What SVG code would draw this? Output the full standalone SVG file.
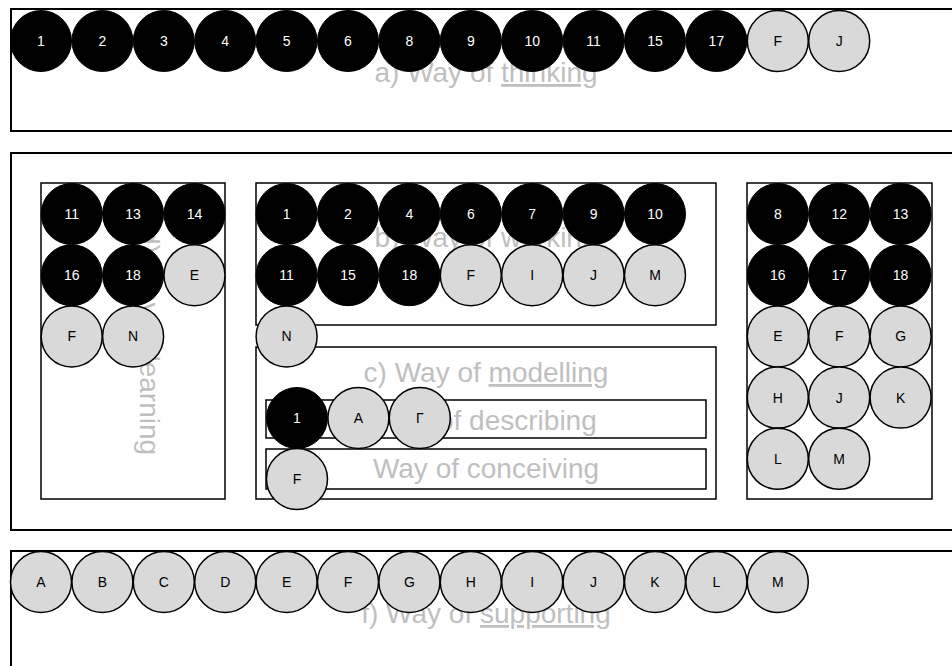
<svg xmlns="http://www.w3.org/2000/svg" width="952" height="666" viewBox="0 0 952 666">
<style>
.box{fill:#fff;stroke:#000;stroke-width:2}
.ibox{fill:none;stroke:#000;stroke-width:1.5}
.lbl{font-family:"Liberation Sans",Arial,sans-serif;font-size:28px;fill:#bfbfbf;text-anchor:middle}
.u{text-decoration:underline}
.b circle{fill:#000;stroke:#000;stroke-width:1}
.g circle{fill:#d9d9d9;stroke:#000;stroke-width:1.5}
.b text,.g text{font-family:"Liberation Sans",Arial,sans-serif;font-size:14px;text-anchor:middle;dominant-baseline:central}
.b text{fill:#fff}
.g text{fill:#000}
</style>
<rect width="952" height="666" fill="#fff"/>
<g id="box-a">
<rect class="box" x="11" y="9" width="960" height="122"/>
<text class="lbl" x="486" y="82">a) Way of <tspan class="u">thinking</tspan></text>
</g>
<g id="box-outer-middle">
<rect class="box" x="11" y="153" width="960" height="377"/>
</g>
<g id="box-d">
<rect class="ibox" x="41" y="183" width="184" height="316"/>
<text class="lbl" transform="translate(140,342) rotate(90)">d) Way of learning</text>
</g>
<g id="box-b">
<rect class="ibox" x="256" y="183" width="460" height="142"/>
<text class="lbl" x="486" y="247">b) Way of working</text>
</g>
<g id="box-c">
<rect class="ibox" x="256" y="347" width="460" height="152"/>
<text class="lbl" x="486" y="382">c) Way of <tspan class="u">modelling</tspan></text>
</g>
<g id="box-describing">
<rect class="ibox" x="266" y="400" width="440" height="38"/>
<text class="lbl" x="486" y="430">Way of describing</text>
</g>
<g id="box-conceiving">
<rect class="ibox" x="266" y="449" width="440" height="40"/>
<text class="lbl" x="486" y="478">Way of conceiving</text>
</g>
<g id="box-e">
<rect class="ibox" x="747" y="183" width="185" height="316"/>
</g>
<g id="box-f">
<rect class="box" x="11" y="551" width="960" height="130"/>
<text class="lbl" x="486" y="623">f) Way of <tspan class="u">supporting</tspan></text>
</g>
<g id="connectors"/>
<!-- a) thinking -->
<g id="a-1" class="b"><circle cx="41" cy="41" r="30.5"/><text x="41" y="41">1</text></g>
<g id="a-2" class="b"><circle cx="102.4" cy="41" r="30.5"/><text x="102.4" y="41">2</text></g>
<g id="a-3" class="b"><circle cx="163.8" cy="41" r="30.5"/><text x="163.8" y="41">3</text></g>
<g id="a-4" class="b"><circle cx="225.2" cy="41" r="30.5"/><text x="225.2" y="41">4</text></g>
<g id="a-5" class="b"><circle cx="286.6" cy="41" r="30.5"/><text x="286.6" y="41">5</text></g>
<g id="a-6" class="b"><circle cx="348" cy="41" r="30.5"/><text x="348" y="41">6</text></g>
<g id="a-8" class="b"><circle cx="409.4" cy="41" r="30.5"/><text x="409.4" y="41">8</text></g>
<g id="a-9" class="b"><circle cx="470.8" cy="41" r="30.5"/><text x="470.8" y="41">9</text></g>
<g id="a-10" class="b"><circle cx="532.2" cy="41" r="30.5"/><text x="532.2" y="41">10</text></g>
<g id="a-11" class="b"><circle cx="593.6" cy="41" r="30.5"/><text x="593.6" y="41">11</text></g>
<g id="a-15" class="b"><circle cx="655" cy="41" r="30.5"/><text x="655" y="41">15</text></g>
<g id="a-17" class="b"><circle cx="716.4" cy="41" r="30.5"/><text x="716.4" y="41">17</text></g>
<g id="a-F" class="g"><circle cx="777.8" cy="41" r="30.5"/><text x="777.8" y="41">F</text></g>
<g id="a-J" class="g"><circle cx="839.2" cy="41" r="30.5"/><text x="839.2" y="41">J</text></g>
<!-- d) learning -->
<g id="d-11" class="b"><circle cx="71.7" cy="214" r="30.5"/><text x="71.7" y="214">11</text></g>
<g id="d-13" class="b"><circle cx="133.1" cy="214" r="30.5"/><text x="133.1" y="214">13</text></g>
<g id="d-14" class="b"><circle cx="194.5" cy="214" r="30.5"/><text x="194.5" y="214">14</text></g>
<g id="d-16" class="b"><circle cx="71.7" cy="275.2" r="30.5"/><text x="71.7" y="275.2">16</text></g>
<g id="d-18" class="b"><circle cx="133.1" cy="275.2" r="30.5"/><text x="133.1" y="275.2">18</text></g>
<g id="d-E" class="g"><circle cx="194.5" cy="275.2" r="30.5"/><text x="194.5" y="275.2">E</text></g>
<g id="d-F" class="g"><circle cx="71.7" cy="336.4" r="30.5"/><text x="71.7" y="336.4">F</text></g>
<g id="d-N" class="g"><circle cx="133.1" cy="336.4" r="30.5"/><text x="133.1" y="336.4">N</text></g>
<!-- b) working -->
<g id="b-1" class="b"><circle cx="286.6" cy="214" r="30.5"/><text x="286.6" y="214">1</text></g>
<g id="b-2" class="b"><circle cx="348" cy="214" r="30.5"/><text x="348" y="214">2</text></g>
<g id="b-4" class="b"><circle cx="409.4" cy="214" r="30.5"/><text x="409.4" y="214">4</text></g>
<g id="b-6" class="b"><circle cx="470.8" cy="214" r="30.5"/><text x="470.8" y="214">6</text></g>
<g id="b-7" class="b"><circle cx="532.2" cy="214" r="30.5"/><text x="532.2" y="214">7</text></g>
<g id="b-9" class="b"><circle cx="593.6" cy="214" r="30.5"/><text x="593.6" y="214">9</text></g>
<g id="b-10" class="b"><circle cx="655" cy="214" r="30.5"/><text x="655" y="214">10</text></g>
<g id="b-11" class="b"><circle cx="286.6" cy="275.2" r="30.5"/><text x="286.6" y="275.2">11</text></g>
<g id="b-15" class="b"><circle cx="348" cy="275.2" r="30.5"/><text x="348" y="275.2">15</text></g>
<g id="b-18" class="b"><circle cx="409.4" cy="275.2" r="30.5"/><text x="409.4" y="275.2">18</text></g>
<g id="b-F" class="g"><circle cx="470.8" cy="275.2" r="30.5"/><text x="470.8" y="275.2">F</text></g>
<g id="b-I" class="g"><circle cx="532.2" cy="275.2" r="30.5"/><text x="532.2" y="275.2">I</text></g>
<g id="b-J" class="g"><circle cx="593.6" cy="275.2" r="30.5"/><text x="593.6" y="275.2">J</text></g>
<g id="b-M" class="g"><circle cx="655" cy="275.2" r="30.5"/><text x="655" y="275.2">M</text></g>
<g id="b-N" class="g"><circle cx="286.6" cy="336.4" r="30.5"/><text x="286.6" y="336.4">N</text></g>
<!-- c) modelling -->
<g id="c-1" class="b"><circle cx="297" cy="418" r="30.5"/><text x="297" y="418">1</text></g>
<g id="c-A" class="g"><circle cx="358.4" cy="418" r="30.5"/><text x="358.4" y="418">A</text></g>
<g id="c-Gamma" class="g"><circle cx="419.8" cy="418" r="30.5"/><text x="419.8" y="418">Γ</text></g>
<g id="c-F" class="g"><circle cx="297" cy="479" r="30.5"/><text x="297" y="479">F</text></g>
<!-- e) right box -->
<g id="e-8" class="b"><circle cx="777.8" cy="214" r="30.5"/><text x="777.8" y="214">8</text></g>
<g id="e-12" class="b"><circle cx="839.2" cy="214" r="30.5"/><text x="839.2" y="214">12</text></g>
<g id="e-13" class="b"><circle cx="900.6" cy="214" r="30.5"/><text x="900.6" y="214">13</text></g>
<g id="e-16" class="b"><circle cx="777.8" cy="275.2" r="30.5"/><text x="777.8" y="275.2">16</text></g>
<g id="e-17" class="b"><circle cx="839.2" cy="275.2" r="30.5"/><text x="839.2" y="275.2">17</text></g>
<g id="e-18" class="b"><circle cx="900.6" cy="275.2" r="30.5"/><text x="900.6" y="275.2">18</text></g>
<g id="e-E" class="g"><circle cx="777.8" cy="336.4" r="30.5"/><text x="777.8" y="336.4">E</text></g>
<g id="e-F" class="g"><circle cx="839.2" cy="336.4" r="30.5"/><text x="839.2" y="336.4">F</text></g>
<g id="e-G" class="g"><circle cx="900.6" cy="336.4" r="30.5"/><text x="900.6" y="336.4">G</text></g>
<g id="e-H" class="g"><circle cx="777.8" cy="397.6" r="30.5"/><text x="777.8" y="397.6">H</text></g>
<g id="e-J" class="g"><circle cx="839.2" cy="397.6" r="30.5"/><text x="839.2" y="397.6">J</text></g>
<g id="e-K" class="g"><circle cx="900.6" cy="397.6" r="30.5"/><text x="900.6" y="397.6">K</text></g>
<g id="e-L" class="g"><circle cx="777.8" cy="458.8" r="30.5"/><text x="777.8" y="458.8">L</text></g>
<g id="e-M" class="g"><circle cx="839.2" cy="458.8" r="30.5"/><text x="839.2" y="458.8">M</text></g>
<!-- f) supporting -->
<g id="f-A" class="g"><circle cx="41" cy="582" r="30.5"/><text x="41" y="582">A</text></g>
<g id="f-B" class="g"><circle cx="102.4" cy="582" r="30.5"/><text x="102.4" y="582">B</text></g>
<g id="f-C" class="g"><circle cx="163.8" cy="582" r="30.5"/><text x="163.8" y="582">C</text></g>
<g id="f-D" class="g"><circle cx="225.2" cy="582" r="30.5"/><text x="225.2" y="582">D</text></g>
<g id="f-E" class="g"><circle cx="286.6" cy="582" r="30.5"/><text x="286.6" y="582">E</text></g>
<g id="f-F" class="g"><circle cx="348" cy="582" r="30.5"/><text x="348" y="582">F</text></g>
<g id="f-G" class="g"><circle cx="409.4" cy="582" r="30.5"/><text x="409.4" y="582">G</text></g>
<g id="f-H" class="g"><circle cx="470.8" cy="582" r="30.5"/><text x="470.8" y="582">H</text></g>
<g id="f-I" class="g"><circle cx="532.2" cy="582" r="30.5"/><text x="532.2" y="582">I</text></g>
<g id="f-J" class="g"><circle cx="593.6" cy="582" r="30.5"/><text x="593.6" y="582">J</text></g>
<g id="f-K" class="g"><circle cx="655" cy="582" r="30.5"/><text x="655" y="582">K</text></g>
<g id="f-L" class="g"><circle cx="716.4" cy="582" r="30.5"/><text x="716.4" y="582">L</text></g>
<g id="f-M" class="g"><circle cx="777.8" cy="582" r="30.5"/><text x="777.8" y="582">M</text></g>
</svg>
